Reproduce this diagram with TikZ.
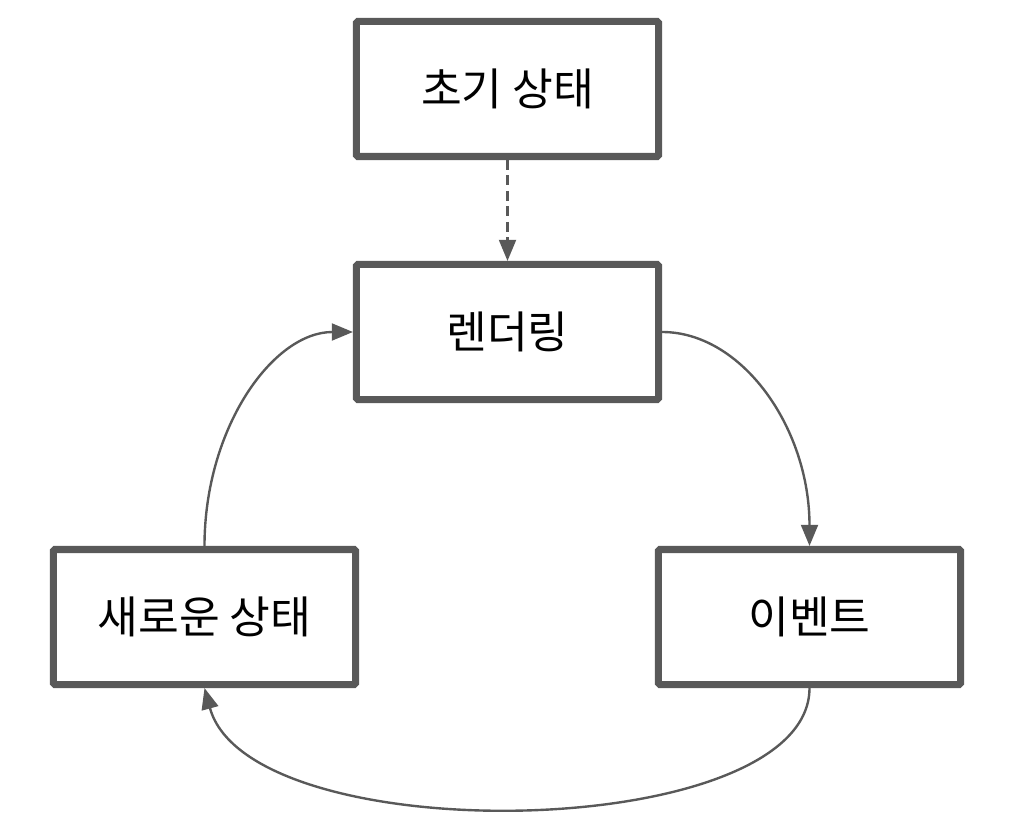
\documentclass[tikz,border=0pt]{standalone}
\usepackage{fontspec}
\setmainfont{Noto Sans CJK KR}
\usetikzlibrary{arrows.meta}
\definecolor{edge}{HTML}{595959}
\begin{document}
\begin{tikzpicture}[x=0.025cm,y=-0.025cm,
  box/.style={draw=edge,line width=5pt,rounded corners=1pt,minimum width=7.55cm,minimum height=3.375cm,inner sep=0pt,font=\fontsize{31.5}{36}\selectfont},
  conn/.style={draw=edge,line width=1.7pt,-{Triangle[length=15pt,width=12pt]}}]
\useasboundingbox (0,0) rectangle (1010,826);
\node[box] (init) at (507.5,89) {초기 상태};
\node[box] (rend) at (507.5,332) {렌더링};
\node[box] (new) at (204.5,617) {새로운 상태};
\node[box] (event) at (809.5,617) {이벤트};
\draw[conn,dash pattern=on 7pt off 4pt] (init.south) -- (rend.north);
\draw[conn] (rend.east) .. controls +(80,0) and +(0,-118) .. (event.north);
\draw[conn] (new.north) .. controls +(0,-118) and +(-80,0) .. (rend.west);
\draw[conn] (event.south) .. controls +(0,155) and +(45,165) .. (new.south);
\end{tikzpicture}
\end{document}
